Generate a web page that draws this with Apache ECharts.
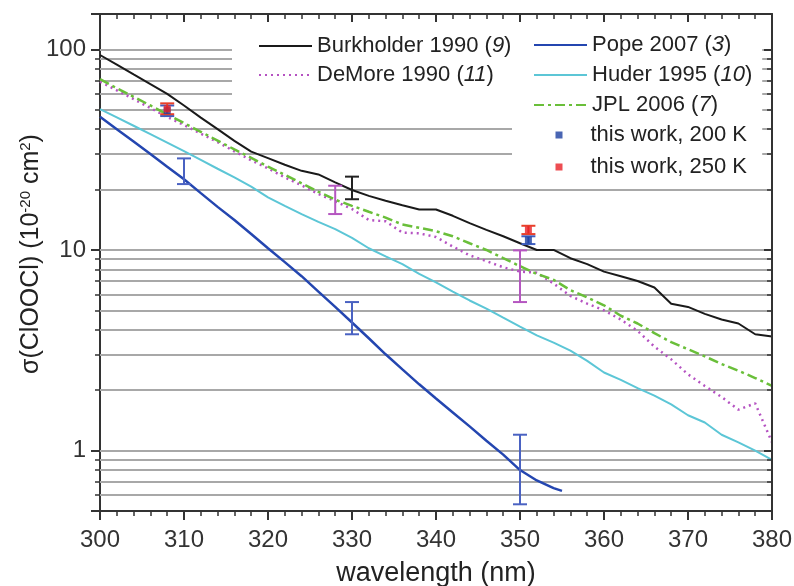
<!DOCTYPE html>
<html>
<head>
<meta charset="utf-8">
<script src="https://cdn.jsdelivr.net/npm/echarts@6/dist/echarts.min.js"></script>
<style>
html, body { margin: 0; padding: 0; background: #fff; }
#chart { width: 794px; height: 586px; }
</style>
</head>
<body>
<div id="chart"></div>
<script>
// wavelengths (nm)
const wl = [300, 302, 304, 306, 308, 310, 312, 314, 316, 318, 320, 322, 324, 326, 328, 330, 332, 334, 336, 338, 340,
    342, 344, 346, 348, 350, 352, 354, 356, 358, 360, 362, 364, 366, 368, 370, 372, 374, 376, 378, 380];
const wlPope = [300, 302, 304, 306, 308, 310, 312, 314, 316, 318, 320, 322, 324, 326, 328, 330, 332, 334, 336, 338,
    340, 342, 344, 346, 348, 350, 352, 354, 355];

// cross sections (1e-20 cm2)
const burkholder = [93.7, 84, 75, 67, 60, 52.5, 45.7, 40, 35, 30.9, 28.7, 26.6, 24.8, 23.8, 21.7, 19.9, 18.6, 17.6, 16.7, 15.9, 15.9,
    14.8, 13.6, 12.6, 11.7, 10.8, 10, 10, 9.1, 8.5, 7.8, 7.4, 7.0, 6.5, 5.4, 5.2, 4.8, 4.5, 4.3, 3.8, 3.7];
const demore = [69, 62.5, 56.5, 51, 46, 42, 38, 34.5, 31, 28, 25.5, 23, 21, 19, 17.5, 16, 14.1, 13.9, 12.2, 12.1, 11.6,
    10.4, 9.4, 8.8, 8.2, 7.8, 7.7, 6.8, 5.9, 5.4, 5.0, 4.5, 3.95, 3.3, 2.85, 2.4, 2.1, 1.85, 1.6, 1.72, 1.1];
const jpl = [71, 64, 58, 52.5, 47.4, 42.9, 38.8, 35.1, 31.7, 28.8, 26, 23.7, 21.5, 19.5, 17.8, 16.6, 15.5, 14.5, 13.4, 12.9, 12.4,
    11.7, 10.8, 10, 9.1, 8.3, 7.6, 7.1, 6.3, 5.8, 5.3, 4.7, 4.3, 3.85, 3.47, 3.2, 2.95, 2.7, 2.5, 2.3, 2.1];
const huder = [50.4, 45.8, 41.6, 37.8, 34.3, 31.1, 28.1, 25.4, 23, 20.7, 18.3, 16.6, 15.1, 13.8, 12.7, 11.5, 10.2, 9.3, 8.5, 7.6, 6.9,
    6.2, 5.6, 5.1, 4.6, 4.15, 3.75, 3.45, 3.15, 2.8, 2.45, 2.25, 2.05, 1.88, 1.7, 1.5, 1.38, 1.2, 1.1, 1.0, 0.9];
const pope = [46.1, 40.0, 34.7, 30.1, 26.0, 22.5, 19.2, 16.4, 14.1, 12.0, 10.2, 8.7, 7.4, 6.2, 5.2, 4.35, 3.63, 3.02, 2.54, 2.14,
    1.82, 1.55, 1.32, 1.12, 0.955, 0.80, 0.71, 0.65, 0.63];

// error bars [wavelength, low, high]
const popeErr = [[310, 21.3, 28.6], [330, 3.8, 5.5], [350, 0.54, 1.2]];
const burkErr = [[330, 17.9, 23.2]];
const demoreErr = [[328, 15.1, 20.9], [350, 5.5, 9.95]];
const work200Err = [[308, 46.5, 52.5], [351, 10.7, 11.7]];
const work250Err = [[308, 47.5, 53.8], [351, 12.0, 13.2]];
// this work points [wavelength, value]
const work200 = [[308, 49.5], [351, 11.2]];
const work250 = [[308, 50.5], [351, 12.6]];

const yLabels = [1, 10, 100];
const gridValues = [0.6, 0.7, 0.8, 0.9, 1, 2, 3, 4, 5, 6, 7, 8, 9, 10, 20, 30, 40, 50, 60, 70, 80, 90, 100];

const FONT = '"Liberation Sans", Arial, sans-serif';
const AXIS = '#333';

function pairs(xs, ys) {
    return xs.map((x, i) => [x, ys[i]]);
}

function errRender(params, api) {
    const x = api.value(0);
    const lo = api.coord([x, api.value(1)]);
    const hi = api.coord([x, api.value(2)]);
    const w = 7;
    const style = { stroke: api.visual('color'), lineWidth: 2, fill: null };
    return {
        type: 'group',
        children: [
            { type: 'line', shape: { x1: lo[0], y1: lo[1], x2: hi[0], y2: hi[1] }, style: style },
            { type: 'line', shape: { x1: lo[0] - w, y1: lo[1], x2: lo[0] + w, y2: lo[1] }, style: style },
            { type: 'line', shape: { x1: hi[0] - w, y1: hi[1], x2: hi[0] + w, y2: hi[1] }, style: style }
        ]
    };
}

function errSeries(name, data, color, z) {
    return {
        name: name, type: 'custom', renderItem: errRender, data: data,
        encode: { x: 0, y: [1, 2] }, itemStyle: { color: color }, z: z, silent: true
    };
}

function lineSeries(name, xs, ys, color, width, type) {
    return {
        name: name, type: 'line', data: pairs(xs, ys), symbol: 'none',
        lineStyle: { color: color, width: width, type: type }, itemStyle: { color: color }, z: 3
    };
}

const legendText = {
    fontSize: 22, color: '#222', fontFamily: FONT, lineHeight: 22,
    rich: {
        it: { fontSize: 22, fontStyle: 'italic', color: '#222', fontFamily: FONT, lineHeight: 22 },
        gap: { width: 23 }
    }
};
const legendFmt = name => name.replace(/\((\d+)\)/, '({it|$1})');

const myChart = echarts.init(document.getElementById('chart'));
const option = {
    animation: false,
    backgroundColor: '#fff',
    grid: { left: 100, right: 22, top: 14, bottom: 75, outerBoundsMode: 'none', containLabel: false },
    legend: [
        {
            orient: 'vertical', left: 232, top: 14, padding: [21, 2, 34, 26],
            backgroundColor: '#fff', itemWidth: 53, itemHeight: 2, itemGap: 7,
            itemStyle: { opacity: 0 },
            data: ['Burkholder 1990 (9)', 'DeMore 1990 (11)'],
            formatter: legendFmt, textStyle: legendText, selectedMode: false
        },
        {
            orient: 'vertical', left: 512, top: 14, padding: [20, 10, 69, 21],
            backgroundColor: '#fff', itemWidth: 53, itemHeight: 2, itemGap: 8,
            itemStyle: { opacity: 0 },
            data: ['Pope 2007 (3)', 'Huder 1995 (10)', 'JPL 2006 (7)'],
            formatter: legendFmt, textStyle: legendText, selectedMode: false
        },
        {
            orient: 'vertical', left: 555.5, top: 124, padding: 0, z: 6,
            itemWidth: 7, itemHeight: 7, itemGap: 10,
            data: ['this work, 200 K', 'this work, 250 K'],
            formatter: name => '{gap|}' + name,
            textStyle: legendText, selectedMode: false
        }
    ],
    xAxis: [
        {
            type: 'value', min: 300, max: 380, interval: 10, position: 'bottom',
            name: 'wavelength (nm)', nameLocation: 'middle', nameGap: 49, nameMoveOverlap: false,
            nameTextStyle: { fontSize: 27, color: '#222', fontFamily: FONT },
            axisLine: { show: true, onZero: false, lineStyle: { color: AXIS, width: 2 } },
            axisTick: { show: true, length: 9, lineStyle: { color: AXIS, width: 2 } },
            minorTick: { show: true, splitNumber: 5, length: 5, lineStyle: { color: AXIS, width: 1.5 } },
            axisLabel: { fontSize: 24, color: '#333', fontFamily: FONT, margin: 17 },
            splitLine: { show: false }
        },
        {
            type: 'value', min: 300, max: 380, interval: 10, position: 'top', z: 10,
            axisLine: { show: true, onZero: false, lineStyle: { color: AXIS, width: 2 } },
            axisTick: { show: true, inside: true, length: 8, lineStyle: { color: AXIS, width: 2 } },
            minorTick: { show: true, splitNumber: 5, length: 5, lineStyle: { color: AXIS, width: 1.5 } },
            axisLabel: { show: false },
            splitLine: { show: false }
        }
    ],
    yAxis: [
        {
            type: 'log', logBase: 10, min: 0.5, max: 150, position: 'left',
            name: 'σ(ClOOCl) (10{sup|-20} cm{sup|2})', nameLocation: 'middle', nameGap: 56, nameMoveOverlap: false,
            nameTextStyle: {
                fontSize: 25, color: '#222', fontFamily: FONT, lineHeight: 26, padding: [0, 0, 0, 17],
                rich: { sup: { fontSize: 15, color: '#222', fontFamily: FONT, verticalAlign: 'top', lineHeight: 15 } }
            },
            axisLine: { show: true, onZero: false, lineStyle: { color: AXIS, width: 2 } },
            axisTick: { show: true, length: 9, lineStyle: { color: AXIS, width: 2 } },
            minorTick: { show: true, splitNumber: 9, length: 5, lineStyle: { color: AXIS, width: 1.5 } },
            axisLabel: {
                fontSize: 24, color: '#333', fontFamily: FONT, margin: 14,
                formatter: v => {
                    const r = Math.round(v * 1000) / 1000;
                    return yLabels.indexOf(r) >= 0 ? String(r) : '';
                }
            },
            splitLine: { show: false }
        },
        {
            type: 'log', logBase: 10, min: 0.5, max: 150, position: 'right', z: 10,
            axisLine: { show: true, onZero: false, lineStyle: { color: AXIS, width: 2 } },
            axisTick: { show: true, inside: true, length: 8, lineStyle: { color: AXIS, width: 2 } },
            minorTick: { show: true, splitNumber: 9, length: 5, lineStyle: { color: AXIS, width: 1.5 } },
            axisLabel: { show: false },
            splitLine: { show: false }
        }
    ],
    series: [
        {
            name: 'gridlines', type: 'line', data: [], z: 1, silent: true,
            markLine: {
                z: 1, silent: true, symbol: ['none', 'none'], label: { show: false },
                lineStyle: { color: '#a8a8a8', width: 2, type: 'solid' },
                data: gridValues.map(v => ({ yAxis: v }))
            }
        },
        lineSeries('Burkholder 1990 (9)', wl, burkholder, '#1a1a1a', 2, 'solid'),
        lineSeries('DeMore 1990 (11)', wl, demore, '#b552c2', 2.5, [2, 4]),
        lineSeries('Pope 2007 (3)', wlPope, pope, '#2446b0', 2.5, 'solid'),
        lineSeries('Huder 1995 (10)', wl, huder, '#5cc6d6', 2, 'solid'),
        lineSeries('JPL 2006 (7)', wl, jpl, '#6abf3a', 2.5, [10, 4, 3, 4]),
        errSeries('err pope', popeErr, '#4a62c2', 4),
        errSeries('err burkholder', burkErr, '#222222', 4),
        errSeries('err demore', demoreErr, '#b556c0', 4),
        errSeries('err 200', work200Err, '#3f5fc0', 4),
        errSeries('err 250', work250Err, '#e8402a', 5),
        {
            name: 'this work, 200 K', type: 'scatter', data: work200, symbol: 'rect', symbolSize: 7,
            itemStyle: { color: '#1c3ea0' }, z: 5
        },
        {
            name: 'this work, 250 K', type: 'scatter', data: work250, symbol: 'rect', symbolSize: 7,
            itemStyle: { color: '#e82027' }, z: 6
        }
    ]
};
myChart.setOption(option);
</script>
</body>
</html>
